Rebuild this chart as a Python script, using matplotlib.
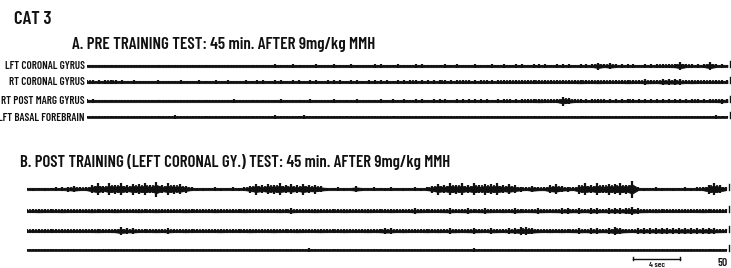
import numpy as np
import matplotlib
matplotlib.use("Agg")
import matplotlib.pyplot as plt

# ---------------- data (half-amplitude envelopes, microvolts, 0.5 s per sample) -------------
SAMPLE_S = 0.5
CHANNELS = ["LFT CORONAL GYRUS", "RT CORONAL GYRUS", "RT POST MARG GYRUS", "LFT BASAL FOREBRAIN"]

pre_lft_coronal = [
    8, 10, 8, 12, 10, 8, 10, 12, 10, 8,
    12, 10, 14, 10, 12, 10, 8, 12, 14, 12,
    10, 12, 14, 12, 10, 12, 10, 12, 14, 12,
    14, 12, 16, 14, 12, 18, 14, 12, 14, 16,
    12, 14, 18, 14, 12, 16, 14, 12, 14, 18,
    16, 12, 14, 16, 14, 12, 16, 20, 14, 12,
    14, 16, 14, 18, 14, 12, 16, 14, 12, 18,
    14, 16, 14, 16, 18, 14, 16, 18, 16, 14,
    16, 18, 16, 14, 18, 16, 22, 35, 20, 30,
    18, 16, 18, 16, 14, 18, 16, 18, 20, 18,
    24, 40, 22, 18, 16, 18, 40, 20, 16, 14]
pre_rt_coronal = [
    18, 20, 16, 22, 18, 20, 16, 14, 16, 12,
    14, 12, 16, 14, 12, 14, 16, 12, 14, 16,
    14, 12, 16, 14, 18, 14, 12, 16, 14, 16,
    16, 14, 18, 16, 14, 16, 18, 14, 16, 18,
    14, 16, 18, 16, 14, 18, 16, 14, 18, 16,
    18, 16, 14, 18, 16, 20, 18, 16, 18, 16,
    20, 18, 16, 18, 20, 18, 16, 20, 18, 16,
    18, 20, 22, 18, 20, 18, 22, 20, 18, 20,
    22, 20, 18, 22, 24, 20, 22, 24, 20, 22,
    20, 22, 24, 22, 20, 26, 24, 22, 30, 28,
    30, 26, 22, 24, 22, 20, 22, 20, 18, 16]
pre_rt_post_marg = [
    18, 16, 14, 12, 14, 12, 10, 12, 14, 12,
    10, 12, 14, 12, 10, 12, 14, 12, 10, 12,
    14, 12, 10, 12, 14, 16, 12, 10, 14, 12,
    12, 14, 12, 16, 14, 12, 14, 12, 16, 14,
    12, 14, 16, 14, 12, 14, 16, 14, 12, 14,
    16, 14, 18, 14, 16, 14, 18, 16, 14, 16,
    18, 16, 14, 18, 16, 20, 16, 18, 16, 14,
    16, 18, 20, 16, 18, 20, 22, 24, 18, 20,
    22, 45, 30, 20, 18, 16, 18, 20, 18, 16,
    18, 16, 18, 20, 16, 18, 16, 18, 16, 18,
    16, 18, 16, 20, 18, 16, 18, 22, 25, 16]
pre_lft_basal = [
    12, 14, 10, 14, 12, 10, 12, 14, 10, 12,
    12, 10, 12, 14, 12, 16, 14, 12, 14, 12,
    10, 12, 14, 12, 10, 12, 14, 12, 10, 12,
    14, 12, 16, 14, 12, 14, 12, 16, 14, 12,
    12, 14, 12, 10, 12, 14, 12, 10, 12, 14,
    12, 10, 12, 14, 12, 10, 12, 14, 12, 10,
    12, 14, 12, 10, 12, 14, 12, 10, 12, 10,
    12, 14, 12, 10, 12, 14, 12, 14, 12, 10,
    10, 12, 14, 12, 10, 12, 14, 12, 10, 12,
    12, 14, 12, 10, 12, 14, 12, 10, 12, 14,
    12, 14, 12, 10, 12, 14, 12, 16, 14, 12]

post_lft_coronal = [
    12, 15, 12, 15, 14, 18, 16, 25, 30, 22,
    20, 40, 60, 35, 58, 45, 62, 38, 55, 48,
    60, 42, 75, 40, 58, 45, 50, 35, 18, 15,
    15, 14, 16, 15, 14, 16, 15, 18, 35, 55,
    38, 52, 45, 58, 40, 50, 36, 55, 40, 45,
    30, 15, 14, 16, 15, 14, 30, 15, 14, 16,
    14, 15, 16, 14, 15, 14, 16, 15, 18, 35,
    55, 40, 62, 45, 58, 38, 60, 42, 55, 48,
    62, 40, 52, 38, 25, 20, 32, 24, 22, 40,
    50, 30, 25, 20, 45, 58, 40, 60, 42, 55,
    48, 62, 45, 85, 18, 15, 14, 16, 15, 14,
    15, 14, 16, 15, 18, 22, 45, 58, 42, 18]
post_rt_coronal = [
    22, 20, 24, 22, 20, 22, 24, 20, 22, 20,
    22, 24, 20, 22, 20, 24, 22, 20, 22, 24,
    20, 22, 24, 20, 22, 20, 22, 24, 22, 20,
    22, 20, 24, 22, 20, 22, 20, 24, 22, 20,
    20, 22, 20, 24, 22, 26, 22, 20, 22, 24,
    22, 20, 22, 20, 24, 22, 20, 22, 24, 22,
    20, 22, 24, 22, 20, 22, 26, 24, 22, 20,
    22, 24, 26, 22, 24, 26, 22, 24, 26, 24,
    22, 24, 22, 26, 24, 22, 24, 26, 24, 22,
    24, 26, 28, 24, 26, 24, 28, 26, 24, 26,
    28, 26, 30, 36, 26, 24, 22, 24, 22, 20,
    22, 20, 22, 20, 22, 24, 22, 20, 22, 20]
post_rt_post_marg = [
    20, 18, 20, 22, 20, 18, 22, 20, 18, 22,
    20, 22, 24, 22, 20, 24, 38, 26, 28, 22,
    20, 22, 24, 22, 26, 22, 20, 24, 22, 20,
    22, 20, 22, 24, 20, 22, 20, 22, 24, 22,
    20, 22, 24, 22, 20, 22, 24, 22, 20, 22,
    24, 22, 20, 22, 24, 22, 20, 22, 24, 22,
    24, 30, 26, 22, 24, 22, 20, 22, 24, 22,
    24, 22, 26, 24, 22, 24, 26, 24, 22, 26,
    24, 22, 26, 28, 36, 40, 30, 24, 22, 24,
    22, 24, 22, 24, 26, 24, 28, 26, 24, 26,
    36, 30, 24, 22, 26, 28, 26, 28, 30, 28,
    26, 28, 30, 28, 26, 28, 30, 26, 24, 22]
post_lft_basal = [
    12, 10, 12, 14, 12, 10, 12, 14, 12, 10,
    12, 14, 12, 10, 12, 14, 12, 10, 12, 14,
    12, 10, 14, 12, 10, 12, 14, 12, 10, 12,
    14, 12, 10, 12, 14, 12, 10, 12, 14, 12,
    10, 12, 14, 12, 10, 12, 14, 12, 16, 12,
    10, 12, 14, 12, 10, 12, 14, 12, 10, 12,
    14, 12, 10, 12, 14, 12, 10, 12, 14, 12,
    12, 14, 12, 10, 12, 14, 16, 12, 10, 12,
    14, 12, 10, 12, 14, 12, 10, 12, 14, 12,
    12, 14, 12, 10, 12, 14, 12, 10, 12, 14,
    12, 10, 12, 14, 12, 10, 12, 14, 12, 10,
    12, 14, 12, 10, 12, 14, 12, 10, 12, 14]

PRE_TRACES = [pre_lft_coronal, pre_rt_coronal, pre_rt_post_marg, pre_lft_basal]
POST_TRACES = [post_lft_coronal, post_rt_coronal, post_rt_post_marg, post_lft_basal]

TITLE = "CAT 3"
TITLE_A = "A. PRE TRAINING TEST: 45 min. AFTER 9mg/kg MMH"
TITLE_B = "B. POST TRAINING (LEFT CORONAL GY.) TEST: 45 min. AFTER 9mg/kg MMH"
TIME_BAR_S = 4.0
TIME_BAR_LABEL = "4 sec"
CAL_UV = 50
CAL_LABEL = "50"

# ---------------- layout (pixels) -------------
W, H = 731, 268
PX_PER_S = 47 / 4.0
UV_PER_PX = 10.0
INK = "#111111"
FAM = ["Barlow Condensed", "Archivo Narrow", "DejaVu Sans"]

fig = plt.figure(figsize=(W / 100, H / 100), dpi=100)
fig.patch.set_facecolor("white")
renderer = fig.canvas.get_renderer()


def make_axes(x0_px, top_px, bottom_px):
    ax = fig.add_axes([x0_px / W, 1 - bottom_px / H, (W - x0_px) / W, (bottom_px - top_px) / H])
    ax.set_xlim(0, (W - x0_px) / PX_PER_S)
    ax.set_ylim(0, (bottom_px - top_px) * UV_PER_PX)
    ax.axis("off")
    return ax


def draw_traces(ax, traces, rows_px, bottom_px):
    for env, row in zip(traces, rows_px):
        env = np.asarray(env, dtype=float)
        t = np.arange(len(env)) * SAMPLE_S
        off = (bottom_px - row) * UV_PER_PX
        core = np.maximum(env * 0.55, 12)
        ax.fill_between(t, off - core, off + core, color=INK, lw=0.5, edgecolor=INK)
        ax.vlines(t, off - env, off + env, color=INK, lw=1.6)
        mid = np.minimum(env, np.roll(env, -1)) * 0.85
        ax.vlines(t[:-1] + SAMPLE_S / 2, off - mid[:-1], off + mid[:-1], color=INK, lw=1.2)
        te = t[-1] + 0.25
        ax.plot([te, te], [off - 5, off + CAL_UV], color=INK, lw=1.0)


# Section A
A_TOP, A_BOT = 50, 135
axA = make_axes(87, A_TOP, A_BOT)
A_ROWS = [66, 82, 101, 117]
draw_traces(axA, PRE_TRACES, A_ROWS, A_BOT)

# Section B
B_TOP, B_BOT = 170, 268
axB = make_axes(27, B_TOP, B_BOT)
B_ROWS = [189, 211, 231, 250]
draw_traces(axB, POST_TRACES, B_ROWS, B_BOT)

# time bar
bar_y = (B_BOT - 258.5) * UV_PER_PX
bar_t0 = (633 - 27) / PX_PER_S
axB.plot([bar_t0, bar_t0 + TIME_BAR_S], [bar_y, bar_y], color=INK, lw=1.0)
for tb in (bar_t0, bar_t0 + TIME_BAR_S):
    axB.plot([tb, tb], [bar_y - 15, bar_y + 15], color=INK, lw=1.0)


def ftext(x, y, s, width_px=None, size=8, ha="left", weight="semibold"):
    t = fig.text(x / W, 1 - y / H, s, ha=ha, va="center", fontsize=size,
                 family=FAM, weight=weight, color=INK)
    if width_px is not None:
        w = t.get_window_extent(renderer).width
        t.set_fontsize(size * width_px / w)
    return t


ftext(14, 19, TITLE, 38)
ftext(72, 44, TITLE_A, 305)
ftext(20, 162, TITLE_B, 432)
lab = ftext(85, 101, CHANNELS[2], 84, ha="right")
lab_size = lab.get_fontsize()
for name, row in zip([CHANNELS[0], CHANNELS[1], CHANNELS[3]], [66, 82, 118]):
    ftext(85, row, name, size=lab_size, ha="right")
ftext(657, 265, TIME_BAR_LABEL, 16, ha="center")
ftext(717, 263, CAL_LABEL, 10)

fig.savefig("out.png", dpi=100, facecolor="white")
